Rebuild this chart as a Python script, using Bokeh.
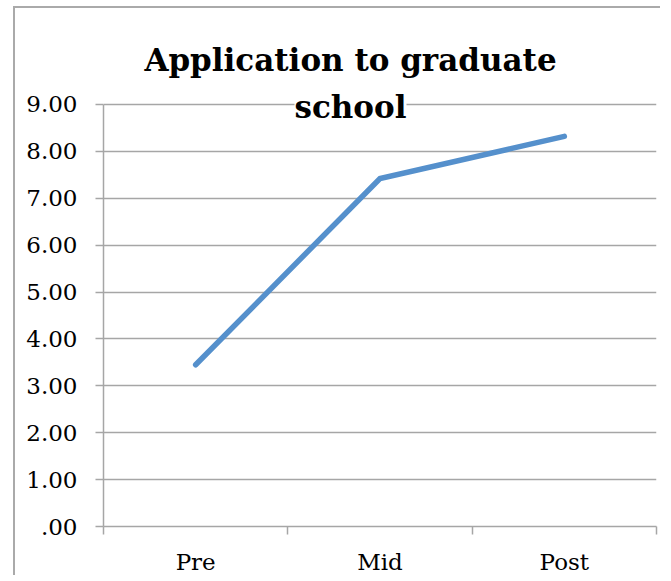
from bokeh.plotting import figure
from bokeh.models import FixedTicker, Label, LinearAxis, Grid
from bokeh.embed import file_html
from bokeh.resources import INLINE

# Data
categories = ["Pre", "Mid", "Post"]
values = [3.45, 7.42, 8.32]
y_ticks = [0, 1, 2, 3, 4, 5, 6, 7, 8, 9]
y_tick_labels = [".00", "1.00", "2.00", "3.00", "4.00", "5.00", "6.00", "7.00", "8.00", "9.00"]
title_lines = ["Application to graduate", "school"]

W, H = 647, 569
FONT = "DejaVu Serif"
GRID = "#a6a6a6"
Y_MAX = 9
Y_TOP = 11.047  # frame extends above 9 to host the title

x_pos = [i + 0.5 for i in range(len(categories))]

p = figure(width=W, height=H, output_backend="svg", toolbar_location=None,
           x_range=(0, len(categories)), y_range=(0, Y_TOP),
           min_border_left=88, min_border_right=6, min_border_top=0, min_border_bottom=51,
           x_axis_type=None, y_axis_type=None)
p.outline_line_color = None
p.background_fill_color = "white"
p.border_fill_color = "white"
p.styles = {"margin-left": "15px", "margin-top": "8px",
            "box-shadow": "-2px -2px 0px 0px #aaaaaa"}

# y axis
yax = LinearAxis(ticker=FixedTicker(ticks=y_ticks, minor_ticks=[]), bounds=(0, Y_MAX))
yax.major_label_overrides = {t: lab for t, lab in zip(y_ticks, y_tick_labels)}
yax.axis_line_color = GRID
yax.axis_line_width = 1.5
yax.major_tick_line_color = GRID
yax.major_tick_line_width = 1.5
yax.major_tick_out = 8
yax.major_tick_in = 0
yax.major_label_standoff = 18
yax.major_label_text_font = FONT
yax.major_label_text_font_size = "23px"
yax.major_label_text_color = "black"
p.add_layout(yax, "left")

# x axis (labels at centres, ticks at category boundaries via minor ticks)
xax = LinearAxis(ticker=FixedTicker(ticks=x_pos, minor_ticks=list(range(len(categories) + 1))))
xax.major_label_overrides = {x: c for x, c in zip(x_pos, categories)}
xax.axis_line_color = GRID
xax.axis_line_width = 1.5
xax.major_tick_line_color = None
xax.major_tick_out = 8
xax.major_tick_in = 0
xax.minor_tick_line_color = GRID
xax.minor_tick_line_width = 1.5
xax.minor_tick_out = 8
xax.minor_tick_in = 0
xax.major_label_standoff = 14
xax.major_label_text_font = FONT
xax.major_label_text_font_size = "23px"
xax.major_label_text_color = "black"
p.add_layout(xax, "below")

# horizontal grid lines
g = Grid(dimension=1, ticker=FixedTicker(ticks=y_ticks))
g.grid_line_color = GRID
g.grid_line_width = 1.5
p.add_layout(g)

# data line
p.line(x_pos, values, line_color="#5590CC", line_width=5.5, line_cap="round", line_join="miter")

# title (screen units relative to the plot frame)
p.add_layout(Label(x=247, y=466.5, x_units="screen", y_units="screen", text=title_lines[0],
                   text_font=FONT, text_font_style="bold", text_font_size="31px",
                   text_align="center", text_baseline="alphabetic", text_color="black"))
p.add_layout(Label(x=247, y=420, x_units="screen", y_units="screen", text=title_lines[1],
                   text_font=FONT, text_font_style="bold", text_font_size="31px",
                   text_align="center", text_baseline="alphabetic", text_color="black",
                   background_fill_color="white", background_fill_alpha=1))

open("out.html", "w").write(file_html(p, INLINE))
